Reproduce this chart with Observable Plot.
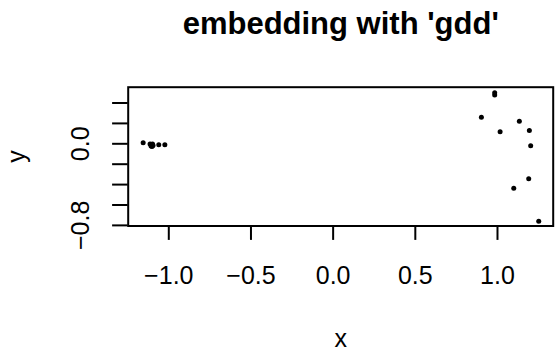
<!DOCTYPE html>
<html>
<head>
<meta charset="utf-8">
<script src="https://cdn.jsdelivr.net/npm/d3@7"></script>
<script src="https://cdn.jsdelivr.net/npm/@observablehq/plot@0.6"></script>
<style>
  html, body { margin: 0; padding: 0; background: #fff; }
</style>
</head>
<body>
<div id="chart"></div>
<script>
const title = "embedding with 'gdd'";
const xLabel = "x";
const yLabel = "y";
const xValues = [-1.156, -1.114, -1.102, -1.099, -1.108, -1.096, -1.061, -1.024,
                 0.983, 0.983, 0.902, 1.133, 1.016, 1.194, 1.202, 1.190, 1.099, 1.251];
const yValues = [0.010, -0.002, -0.026, -0.002, -0.022, -0.017, -0.010, -0.010,
                 0.500, 0.478, 0.261, 0.222, 0.118, 0.130, -0.020, -0.343, -0.435, -0.759];
const xTicks = [-1.0, -0.5, 0.0, 0.5, 1.0];
const yTicks = [-0.8, -0.6, -0.4, -0.2, 0.0, 0.2, 0.4];
const yTickLabels = [0.0, -0.8];

const points = xValues.map((x, i) => ({x, y: yValues[i]}));
const fmt = d => (d < 0 ? "\u2212" : "") + Math.abs(d).toFixed(1);

const chart = Plot.plot({
  width: 555,
  height: 354,
  marginLeft: 127.7,
  marginRight: 2.3,
  marginTop: 86.7,
  marginBottom: 128.5,
  style: {fontFamily: "'Liberation Sans', Arial, sans-serif", background: "#fff", color: "#000"},
  x: {domain: [-1.247, 1.339]},
  y: {domain: [-0.806, 0.555]},
  marks: [
    Plot.frame({stroke: "#000", strokeWidth: 2}),
    Plot.axisX({ticks: xTicks, tickSize: 14.4, tickPadding: 26.3, tickFormat: fmt,
                fontSize: 25, strokeWidth: 2, label: null}),
    Plot.axisY({ticks: yTicks, tickSize: 15.6, tickFormat: () => "", strokeWidth: 2, label: null}),
    Plot.text(yTickLabels, {y: d => d, text: fmt, frameAnchor: "left", dx: -39.4,
                            rotate: -90, textAnchor: "middle", lineAnchor: "bottom",
                            fontSize: 25, fill: "#000"}),
    Plot.dot(points, {x: "x", y: "y", r: 2.5, fill: "#000", stroke: "none"}),
    Plot.text([xLabel], {text: d => d, frameAnchor: "bottom", dy: 121.2, lineAnchor: "bottom",
                         fontSize: 25, fill: "#000"}),
    Plot.text([yLabel], {text: d => d, frameAnchor: "left", dx: -103.5, rotate: -90,
                         textAnchor: "middle", lineAnchor: "bottom", fontSize: 25, fill: "#000"}),
    Plot.text([title], {text: d => d, frameAnchor: "top", dy: -53, lineAnchor: "bottom",
                        fontSize: 31, fontWeight: "bold", fill: "#000"})
  ]
});
document.getElementById("chart").appendChild(chart);
</script>
</body>
</html>
